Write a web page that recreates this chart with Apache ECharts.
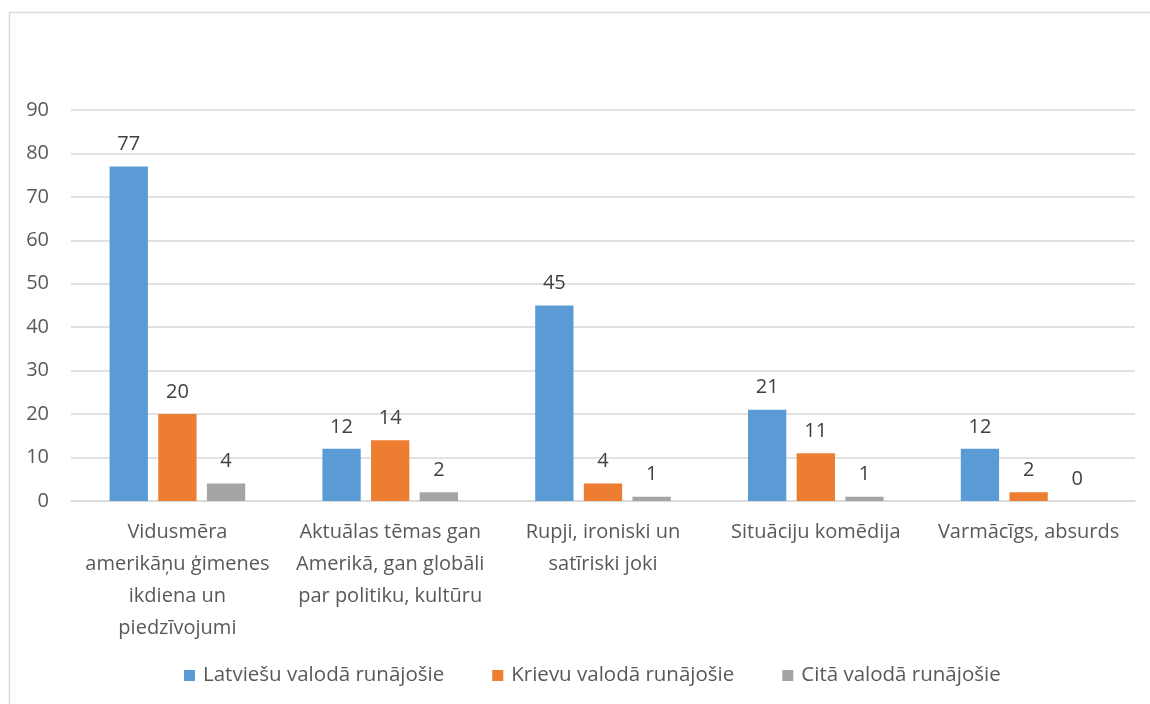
<!DOCTYPE html>
<html>
<head>
<meta charset="utf-8">
<script src="https://cdn.jsdelivr.net/npm/echarts@6/dist/echarts.min.js"></script>
<style>
  html, body { margin: 0; padding: 0; background: #fff; }
  #main { width: 1150px; height: 704px; }
</style>
</head>
<body>
<div id="main"></div>
<script>
var categories = [
  "Vidusmēra\namerikāņu ģimenes\nikdiena un\npiedzīvojumi",
  "Aktuālas tēmas gan\nAmerikā, gan globāli\npar politiku, kultūru",
  "Rupji, ironiski un\nsatīriski joki",
  "Situāciju komēdija",
  "Varmācīgs, absurds"
];
var latvianSpeakers = [77, 12, 45, 21, 12];
var russianSpeakers = [20, 14, 4, 11, 2];
var otherSpeakers = [4, 2, 1, 1, 0];
var seriesNames = ["Latviešu valodā runājošie", "Krievu valodā runājošie", "Citā valodā runājošie"];

var fontFamily = "'Open Sans', sans-serif";
var textColor = "#595959";

var myChart = echarts.init(document.getElementById("main"));

function barSeries(name, data, color) {
  return {
    name: name,
    type: "bar",
    data: data,
    barWidth: "18%",
    barGap: "27%",
    itemStyle: { color: color },
    label: {
      show: true,
      position: "top",
      distance: 12,
      color: "#404040",
      fontSize: 20,
      fontFamily: fontFamily
    }
  };
}

var option = {
  animation: false,
  textStyle: { fontFamily: fontFamily },
  // chart frame, right and bottom edges fall outside the picture
  graphic: [{
    type: "rect",
    shape: { x: 9.5, y: 12.5, width: 1200, height: 800 },
    style: { fill: "none", stroke: "#d9d9d9", lineWidth: 1.5 }
  }],
  legend: {
    bottom: 13,
    left: 179,
    itemWidth: 11,
    itemHeight: 11,
    itemGap: 48,
    icon: "rect",
    textStyle: { color: textColor, fontSize: 20.5, fontFamily: fontFamily, padding: [0, 0, 0, 3] },
    data: seriesNames
  },
  grid: {
    left: 71,
    right: 15,
    top: 110,
    bottom: 203,
    containLabel: false
  },
  xAxis: {
    type: "category",
    data: categories,
    axisLine: { lineStyle: { color: "#d9d9d9", width: 1.5 } },
    axisTick: { show: false },
    axisLabel: {
      color: textColor,
      fontSize: 20,
      fontFamily: fontFamily,
      lineHeight: 32,
      margin: 15,
      interval: 0
    }
  },
  yAxis: {
    type: "value",
    min: 0,
    max: 90,
    interval: 10,
    axisLine: { show: false },
    axisTick: { show: false },
    axisLabel: { color: textColor, fontSize: 20, fontFamily: fontFamily, margin: 22 },
    splitLine: { lineStyle: { color: "#d9d9d9", width: 1.5 } }
  },
  series: [
    barSeries(seriesNames[0], latvianSpeakers, "#5b9bd5"),
    barSeries(seriesNames[1], russianSpeakers, "#ed7d31"),
    barSeries(seriesNames[2], otherSpeakers, "#a5a5a5")
  ]
};

myChart.setOption(option);
</script>
</body>
</html>
